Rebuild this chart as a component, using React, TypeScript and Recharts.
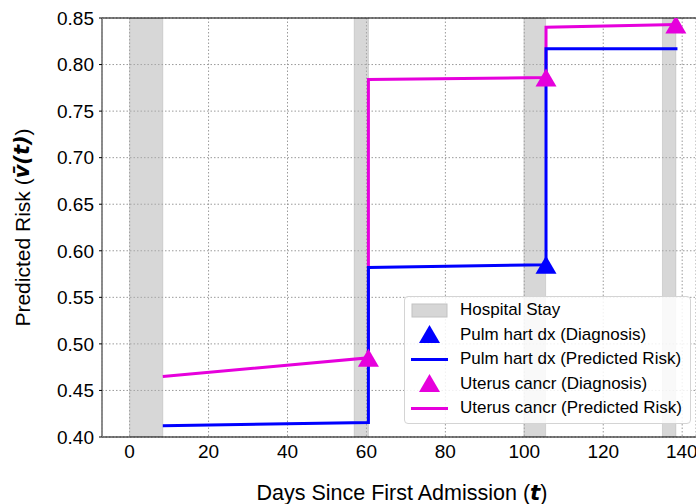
import React from 'react';
import {
  ComposedChart,
  Line,
  Scatter,
  XAxis,
  YAxis,
  CartesianGrid,
  ReferenceArea,
  ReferenceLine,
} from 'recharts';

// Hospital stays (days since first admission)
const stayStart = [0, 56.9, 99.9, 135];
const stayEnd = [8.4, 60.5, 105.4, 138.4];

// Predicted risk curves
const riskDays = [8.4, 60.5, 60.5, 105.5, 105.5, 138.8];
const pulmRisk = [0.412, 0.4156, 0.582, 0.585, 0.817, 0.817];
const uterusRisk = [0.465, 0.485, 0.784, 0.786, 0.84, 0.843];

// Diagnosis markers
const pulmDxDays = [105.5];
const pulmDxRisk = [0.585];
const uterusDxDays = [60.5, 105.5, 138.4];
const uterusDxRisk = [0.485, 0.786, 0.843];

// Axis ticks
const xTicks = [0, 20, 40, 60, 80, 100, 120, 140];
const yTicks = [0.4, 0.45, 0.5, 0.55, 0.6, 0.65, 0.7, 0.75, 0.8, 0.85];

const BLUE = '#0000ff';
const MAGENTA = '#e600dc';
const FONT = '"Liberation Sans", Arial, Helvetica, sans-serif';

const pulmData = riskDays.map((x, i) => ({ x, y: pulmRisk[i] }));
const uterusData = riskDays.map((x, i) => ({ x, y: uterusRisk[i] }));
const pulmDxData = pulmDxDays.map((x, i) => ({ x, y: pulmDxRisk[i] }));
const uterusDxData = uterusDxDays.map((x, i) => ({ x, y: uterusDxRisk[i] }));

const Triangle = (props: any) => {
  const { cx, cy, fill } = props;
  if (cx == null || cy == null) return null;
  const hw = 10.5;
  const hh = 9;
  return (
    <polygon
      points={`${cx},${cy - hh} ${cx - hw},${cy + hh} ${cx + hw},${cy + hh}`}
      fill={fill}
    />
  );
};

const LegendBox = () => {
  const rows = [
    {
      label: 'Hospital Stay',
      icon: <rect x={1} y={6} width={35} height={13} fill="#d6d6d6" stroke="#c2c2c2" />,
    },
    {
      label: 'Pulm hart dx (Diagnosis)',
      icon: <polygon points="18.5,3 8,21 29,21" fill={BLUE} />,
    },
    {
      label: 'Pulm hart dx (Predicted Risk)',
      icon: <line x1={0} x2={37} y1={12.5} y2={12.5} stroke={BLUE} strokeWidth={3} />,
    },
    {
      label: 'Uterus cancr (Diagnosis)',
      icon: <polygon points="18.5,3 8,21 29,21" fill={MAGENTA} />,
    },
    {
      label: 'Uterus cancr (Predicted Risk)',
      icon: <line x1={0} x2={37} y1={12.5} y2={12.5} stroke={MAGENTA} strokeWidth={3} />,
    },
  ];
  return (
    <div
      style={{
        position: 'absolute',
        left: 404,
        top: 296,
        width: 287,
        height: 128,
        boxSizing: 'border-box',
        border: '1px solid #d4d4d4',
        borderRadius: 4,
        background: 'rgba(255,255,255,0.85)',
        fontFamily: FONT,
        fontSize: 17,
        color: '#000',
      }}
    >
      {rows.map((r, i) => (
        <div
          key={i}
          style={{
            position: 'absolute',
            left: 0,
            top: 0.5 + i * 24.6,
            height: 25,
            display: 'flex',
            alignItems: 'center',
            whiteSpace: 'nowrap',
          }}
        >
          <svg width={37} height={25} style={{ marginLeft: 6, marginRight: 12 }}>
            {r.icon}
          </svg>
          <span>{r.label}</span>
        </div>
      ))}
    </div>
  );
};

export default function App() {
  return (
    <div style={{ position: 'absolute', left: 0, top: 0, width: 696, height: 504, background: '#fff' }}>
      <ComposedChart width={696} height={504} margin={{ top: 18, right: 0, bottom: 0, left: 0 }}>
        <CartesianGrid stroke="#9a9a9a" strokeDasharray="1.5 2" strokeWidth={1} />
        {stayStart.map((s, i) => (
          <ReferenceArea
            key={i}
            x1={s}
            x2={stayEnd[i]}
            y1={0.4}
            y2={0.85}
            fill="#b0b0b0"
            fillOpacity={0.5}
            stroke="#a0a0a0"
            strokeOpacity={0.35}
            ifOverflow="hidden"
          />
        ))}
        <XAxis
          dataKey="x"
          type="number"
          domain={[-7, 143.5]}
          ticks={xTicks}
          allowDataOverflow
          height={67}
          tickLine={false}
          axisLine={{ stroke: '#000', strokeWidth: 1.2 }}
          tick={{ fontSize: 19, fill: '#000', fontFamily: FONT }}
          label={{
            content: () => (
              <text x={402} y={500} textAnchor="middle" fontSize={21.5} fontFamily={FONT} fill="#000">
                Days Since First Admission (
                <tspan fontFamily='"DejaVu Sans", sans-serif' fontWeight="bold" fontStyle="italic">t</tspan>)
              </text>
            ),
          }}
        />
        <YAxis
          dataKey="y"
          type="number"
          domain={[0.4, 0.85]}
          ticks={yTicks}
          allowDataOverflow
          width={102}
          tickSize={3}
          tickMargin={5}
          tickLine={{ stroke: '#000' }}
          axisLine={{ stroke: '#808080', strokeWidth: 1.8 }}
          tickFormatter={(v: number) => v.toFixed(2)}
          tick={{ fontSize: 19, fill: '#000', fontFamily: FONT }}
          label={{
            content: () => (
              <text
                x={22}
                y={227.5}
                transform="rotate(-90 22 227.5)"
                textAnchor="middle"
                dominantBaseline="central"
                fontSize={21}
                fontFamily={FONT}
                fill="#000"
              >
                Predicted Risk (
                <tspan fontFamily='"DejaVu Sans", sans-serif' fontWeight="bold" fontStyle="italic">
                  {'v\u0304(t)'}
                </tspan>
                )
              </text>
            ),
          }}
        />
        <ReferenceLine y={0.85} stroke="#000" strokeWidth={1.2} />
        <Line
          data={uterusData}
          dataKey="y"
          type="linear"
          stroke={MAGENTA}
          strokeWidth={3}
          dot={false}
          activeDot={false}
          isAnimationActive={false}
        />
        <Scatter
          data={uterusDxData}
          dataKey="y"
          fill={MAGENTA}
          shape={<Triangle />}
          isAnimationActive={false}
        />
        <Line
          data={pulmData}
          dataKey="y"
          type="linear"
          stroke={BLUE}
          strokeWidth={3}
          dot={false}
          activeDot={false}
          isAnimationActive={false}
        />
        <Scatter
          data={pulmDxData}
          dataKey="y"
          fill={BLUE}
          shape={<Triangle />}
          isAnimationActive={false}
        />
      </ComposedChart>
      <LegendBox />
    </div>
  );
}
